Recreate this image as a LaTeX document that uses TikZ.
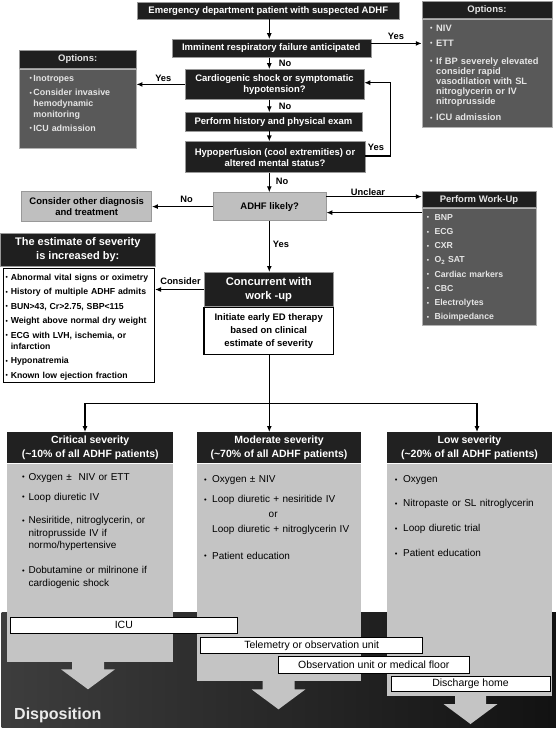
\documentclass[tikz,border=0pt]{standalone}
\usepackage{fontspec}
\setmainfont{Liberation Sans}
\usepackage{xcolor}
\usepackage{graphicx}
\usepackage{tikz}
\usetikzlibrary{arrows.meta,positioning}

\newcommand{\fbx}{\fontsize{9.5}{11}\selectfont\bfseries}
\newcommand{\bpt}[1][6pt]{\makebox[#1][l]{\raisebox{.4pt}{\scalebox{.75}{•}}}}
\newcommand{\indt}[1][6pt]{\hspace*{#1}}

\begin{document}
\begin{tikzpicture}[x=1pt, y=-1pt,
      blk/.style={rectangle, draw=black!40, line width=.5pt, fill=black!88,
                  text=white, font=\fbx, align=center, inner sep=0pt},
      lgt/.style={rectangle, draw=black!40, line width=.5pt, fill=black!25,
                  font=\fbx, align=center, inner sep=0pt},
      dbody/.style={rectangle, draw=black!30, line width=.5pt, fill=black!65,
                    inner sep=0pt},
      wbox/.style={rectangle, draw=black, line width=1.2pt, fill=white,
                   inner sep=0pt},
      sevhd/.style={rectangle, fill=black!87, text=white, align=center,
                    inner sep=0pt, font=\fontsize{10.5}{14.4}\selectfont\bfseries},
      sevbody/.style={rectangle, fill=black!23, inner sep=0pt},
      bar/.style={rectangle, draw=black, line width=.8pt, fill=white,
                  inner sep=0pt, font=\fontsize{10.5}{12}\selectfont},
      lst/.style={anchor=base west, inner sep=0pt, align=left},
      lbl/.style={inner sep=0pt, font=\fontsize{9.3}{11}\selectfont\bfseries},
      arr/.style={-{Latex[length=6pt,width=5pt]}, line width=1.5pt},
      tarr/.style={-{Latex[length=6pt,width=5pt]}, line width=1.1pt}
    ]
    \fill[white] (0,0) rectangle (556,729);
    \useasboundingbox (0,0) rectangle (556,729);
    \shade[left color=black!76, right color=black!93] (1.7,612.7) rectangle (556,727.7);

    \node[blk, minimum width=262pt, minimum height=16.6pt] (emerg) at (268.3,10.6) {Emergency department patient with suspected ADHF};
    \node[blk, minimum width=199pt, minimum height=18pt] (immi) at (271.3,48.4) {Imminent respiratory failure anticipated};
    \node[blk, minimum width=179pt, minimum height=30pt] (cardio) at (274.5,84.4) {Cardiogenic shock or symptomatic\\hypotension?};
    \node[blk, minimum width=177pt, minimum height=18.5pt] (hist) at (273.5,121.8) {Perform history and physical exam};
    \node[blk, minimum width=180pt, minimum height=31pt] (hypo) at (275,157.2) {Hypoperfusion (cool extremities) or\\altered mental status?};
    \node[lgt, minimum width=113pt, minimum height=28pt] (adhf) at (269.7,206.6) {ADHF likely?};
    \node[lgt, minimum width=130pt, minimum height=30pt] (other) at (86.7,206.6) {Consider other diagnosis\\and treatment};

    \node[blk, text=black!10, minimum width=130pt, minimum height=16.8pt] (rophd) at (487,10.1) {Options:};
    \node[dbody, below=0pt of rophd, minimum width=130pt, minimum height=108pt] (ropt) {};
    \node[lst, text width=120pt, text=black!10, font=\fontsize{9.3}{10.2}\selectfont\bfseries] (roptl) at (430,31.3)
      {\bpt NIV\\[4.8pt] \bpt ETT\\[7.5pt] \bpt If BP severely elevated\\ \indt consider rapid\\ \indt vasodilation with SL\\ \indt nitroglycerin or IV\\ \indt nitroprusside\\[5.4pt] \bpt ICU admission};

    \node[blk, text=black!10, minimum width=117pt, minimum height=17.6pt] (lophd) at (77.7,59.5) {Options:};
    \node[dbody, below=0pt of lophd, minimum width=117pt, minimum height=79.4pt] (lopt) {};
    \node[lst, text width=105pt, text=black!10, font=\fontsize{8.9}{11}\selectfont\bfseries] (loptl) at (29.3,81.3)
      {\bpt[4pt]Inotropes\\[3.4pt] \bpt[4pt]Consider invasive\\ \indt[4pt]hemodynamic\\ \indt[4pt]monitoring\\[2.3pt] \bpt[4pt]ICU admission};

    \node[blk, text=black!10, minimum width=114pt, minimum height=16pt] (wuhd) at (479,199.6) {Perform Work-Up};
    \node[dbody, below=0pt of wuhd, minimum width=114pt, minimum height=117.5pt] (wu) {};
    \node[lst, text width=105pt, text=black!10, font=\fontsize{8.7}{14.2}\selectfont\bfseries] (wul) at (426.7,220.3)
      {\bpt[7.6pt]BNP\\ \bpt[7.6pt]ECG\\ \bpt[7.6pt]CXR\\ \bpt[7.6pt]O\textsubscript{2} SAT\\ \bpt[7.6pt]Cardiac markers\\ \bpt[7.6pt]CBC\\ \bpt[7.6pt]Electrolytes\\ \bpt[7.6pt]Bioimpedance};

    \node[blk, minimum width=154.5pt, minimum height=33.4pt, font=\fontsize{11}{14}\selectfont\bfseries] (estim) at (77.8,250) {The estimate of severity\\is increased by:};
    \node[wbox, minimum width=151pt, minimum height=114pt] (estb) at (78.9,325.7) {};
    \node[lst, text width=148pt, font=\fontsize{8.7}{11}\selectfont\bfseries] (estl) at (5.3,280.3)
      {\bpt[5.3pt]Abnormal vital signs or oximetry\\[3.5pt] \bpt[5.3pt]History of multiple ADHF admits\\[3.5pt] \bpt[5.3pt]BUN>43, Cr>2.75, SBP<115\\[3.5pt] \bpt[5.3pt]Weight above normal dry weight\\[3.5pt] \bpt[5.3pt]ECG with LVH, ischemia, or\\ \indt[5.3pt]infarction\\[3.5pt] \bpt[5.3pt]Hyponatremia\\[3.5pt] \bpt[5.3pt]Known low ejection fraction};

    \node[blk, minimum width=129.3pt, minimum height=34.4pt, font=\fontsize{11.2}{13.4}\selectfont\bfseries] (conc) at (268.7,289.5) {Concurrent with\\work -up};
    \node[wbox, below=0pt of conc, minimum width=129.3pt, minimum height=47.3pt, align=center, font=\fontsize{9.5}{12.8}\selectfont\bfseries] (init) {Initiate early ED therapy\\based on clinical\\estimate of severity};

    \node[sevhd, minimum width=165.7pt, minimum height=31pt] (crit) at (90.2,447.8) {Critical severity\\(\textasciitilde10\% of all ADHF patients)};
    \node[sevbody, below=0pt of crit, minimum width=165.7pt, minimum height=198.7pt] (critb) {};
    \node[sevhd, minimum width=164pt, minimum height=31pt] (mod) at (279,447.8) {Moderate severity\\(\textasciitilde70\% of all ADHF patients)};
    \node[sevbody, below=0pt of mod, minimum width=164pt, minimum height=217.7pt] (modb) {};
    \node[sevhd, minimum width=165pt, minimum height=31pt] (low) at (469.5,447.8) {Low severity\\(\textasciitilde20\% of all ADHF patients)};
    \node[sevbody, below=0pt of low, minimum width=165pt, minimum height=232.7pt] (lowb) {};

    \node[lst, text width=150pt, font=\fontsize{10}{12.5}\selectfont] (critl) at (22,480.2)
      {\bpt[6.4pt]Oxygen ±\ \ NIV or ETT\\[7.5pt] \bpt[6.4pt]Loop diuretic IV\\[10.8pt] \bpt[6.4pt]Nesiritide, nitroglycerin, or\\ \indt[6.4pt]nitroprusside IV if\\ \indt[6.4pt]normo/hypertensive\\[12.5pt] \bpt[6.4pt]Dobutamine or milrinone if\\ \indt[6.4pt]cardiogenic shock};
    \node[lst, text width=155pt, font=\fontsize{10}{12.5}\selectfont] (modl) at (204,482.5)
      {\bpt[8pt]Oxygen ± NIV\\[7.8pt] \bpt[8pt]Loop diuretic + nesiritide IV\\[2.2pt] \indt[64.5pt]or\\[2.8pt] \indt[8pt]Loop diuretic + nitroglycerin IV\\[13.9pt] \bpt[8pt]Patient education};
    \node[lst, text width=155pt, font=\fontsize{10}{12.5}\selectfont] (lowl) at (394.7,482.5)
      {\bpt[8.3pt]Oxygen\\[11.7pt] \bpt[8.3pt]Nitropaste or SL nitroglycerin\\[12.5pt] \bpt[8.3pt]Loop diuretic trial\\[12.5pt] \bpt[8.3pt]Patient education};

    \fill[black!23] (72,661) -- (72,669.3) -- (61,669.3) -- (88,689.3) -- (115,669.3) -- (104,669.3) -- (104,661) -- cycle;
    \fill[black!23] (262.5,680) -- (262.5,689.3) -- (251.5,689.3) -- (278.5,709.3) -- (305.5,689.3) -- (294.5,689.3) -- (294.5,680) -- cycle;
    \fill[black!23] (455,695) -- (455,704) -- (443.5,704) -- (470.5,724) -- (497.5,704) -- (486,704) -- (486,695) -- cycle;

    \node[bar, minimum width=227.6pt, minimum height=16pt] (icu) at (123.8,625.3) {ICU};
    \node[bar, minimum width=222pt, minimum height=16pt] (tele) at (311.7,645.3) {Telemetry or observation unit};
    \node[bar, minimum width=191pt, minimum height=16.6pt] (obs) at (373.8,665) {Observation unit or medical floor};
    \node[bar, minimum width=159pt, minimum height=15pt] (home) at (470.5,684.2) {Discharge home};
    \node[anchor=base west, inner sep=0pt, text=black!8, font=\fontsize{16}{18}\selectfont\bfseries] (disp) at (14,719.3) {Disposition};

    \coordinate (ax) at (269.3,0);
    \draw[arr] (ax |- emerg.south) -- (ax |- immi.north);
    \draw[arr] ([yshift=5pt]immi.east) -- ([yshift=5pt]immi.east -| ropt.west);
    \node[lbl] (yes1) at (396,36) {Yes};
    \draw[arr] (ax |- immi.south) -- (ax |- cardio.north);
    \node[lbl] (no1) at (285,63.3) {No};
    \draw[arr] (cardio.west) -- (cardio.west -| lopt.east);
    \node[lbl] (yes2) at (163.3,78.3) {Yes};
    \draw[arr] (ax |- cardio.south) -- (ax |- hist.north);
    \node[lbl] (no2) at (285,106) {No};
    \draw[arr] (ax |- hist.south) -- (ax |- hypo.north);
    \draw[arr] ([yshift=1pt]hypo.east) -- ++(25,0) |- ([yshift=1.7pt]cardio.east);
    \node[lbl] (yes3) at (376,147.7) {Yes};
    \draw[arr] (ax |- hypo.south) -- (ax |- adhf.north);
    \node[lbl] (no3) at (282,181.7) {No};
    \draw[arr] (adhf.west) -- (other.east);
    \node[lbl] (no4) at (186.5,199) {No};
    \draw[tarr] ([yshift=10pt]adhf.east) -- ([yshift=10pt]adhf.east -| wuhd.west);
    \node[lbl] (unc) at (368,191.7) {Unclear};
    \draw[tarr] ([yshift=-6pt]adhf.east -| wu.west) -- ([yshift=-6pt]adhf.east);
    \draw[arr] (ax |- adhf.south) -- (ax |- conc.north);
    \node[lbl] (yes4) at (281,244) {Yes};
    \draw[arr] (conc.west) -- (conc.west -| estb.east);
    \node[lbl] (cons) at (180.5,281) {Consider};

    \coordinate (split) at (269.3,403.3);
    \coordinate (jl) at (85,403.3);
    \coordinate (jr) at (477,403.3);
    \draw[line width=1.5pt] (ax |- init.south) -- (split);
    \draw[line width=1.5pt] (jl) -- (jr);
    \draw[arr] (jl) -- (jl |- crit.north);
    \draw[arr] (split) -- (split |- mod.north);
    \draw[arr] (jr) -- (jr |- low.north);
  \end{tikzpicture}
\end{document}
